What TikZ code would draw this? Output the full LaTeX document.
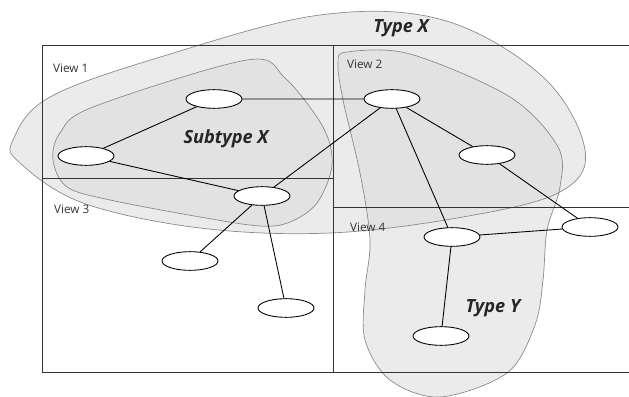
\documentclass[tikz,border=0pt]{standalone}
\usepackage{fontspec}
\setmainfont{Open Sans}
\usetikzlibrary{shapes.geometric}

\definecolor{blobfill}{gray}{0.92}
\definecolor{blobdark}{gray}{0.885}
\definecolor{blobline}{gray}{0.55}

% outlines of the three groups, in pixel units
\newcommand{\typexshape}{plot[smooth cycle, tension=0.6] coordinates {(13,140) (50,97) (167,55) (320,15) (443,20) (543,77) (585,150) (560,192) (463,217) (330,233) (200,228) (83,203) (20,163)}}
\newcommand{\typeyshape}{plot[smooth cycle, tension=0.55] coordinates {(347,52) (410,54) (510,97) (558,147) (560,187) (547,230) (543,280) (535,325) (507,373) (440,397) (390,380) (365,340) (365,290) (370,240) (360,173) (343,100) (338,63)}}
\newcommand{\subxshape}{plot[smooth cycle, tension=0.55] coordinates {(93,107) (247,60) (285,78) (323,127) (332,165) (317,203) (290,222) (260,226) (200,217) (110,200) (67,187) (53,160) (60,133)}}

\begin{document}
\begin{tikzpicture}[
        x=0.3mm, y=-0.3mm,
        vertex/.style={ellipse, draw, fill=white, line width=0.75pt,
          minimum width=16.8mm, minimum height=5.6mm, inner sep=0pt},
        blob/.style={draw=blobline, line width=0.6pt},
        frame/.style={black!80, line width=0.75pt},
        viewlabel/.style={anchor=west, text=black!80,
          font=\fontsize{10}{12}\selectfont},
        grouplabel/.style={text=black!85,
          font=\fontsize{15.5}{18}\selectfont\bfseries\itshape},
      ]
      \useasboundingbox (0,0) rectangle (629,397);
      % group regions
      \fill[blobfill] \typexshape;
      \fill[blobfill] \typeyshape;
      \begin{scope}
        \clip \typexshape;
        \fill[blobdark] \typeyshape;
      \end{scope}
      \fill[blobdark] \subxshape;
      \draw[blob] \typexshape;
      \draw[blob] \typeyshape;
      \draw[blob] \subxshape;
      % views
      \draw[frame] (42,45) rectangle (333,372);
      \draw[frame] (333,45) -- (629,45) (333,372) -- (629,372);
      \draw[frame] (42,178) -- (333,178) (333,207) -- (629,207);
      \node[viewlabel] (v1) at (49,68) {View 1};
      \node[viewlabel] (v2) at (343,64) {View 2};
      \node[viewlabel] (v3) at (50,209) {View 3};
      \node[viewlabel] (v4) at (346,227) {View 4};
      % graph
      \node[vertex] (a) at (214,99) {};
      \node[vertex] (b) at (86,156) {};
      \node[vertex] (c) at (392,99) {};
      \node[vertex] (d) at (487,155) {};
      \node[vertex] (e) at (262,196) {};
      \node[vertex] (f) at (190,261) {};
      \node[vertex] (g) at (286,308) {};
      \node[vertex] (h) at (452,237) {};
      \node[vertex] (i) at (590,227) {};
      \node[vertex] (j) at (441,336) {};
      \draw[line width=0.75pt] (a) -- (c) (a) -- (b) (b) -- (e) (e) -- (c)
        (e) -- (f) (e) -- (g) (c) -- (d) (c) -- (h) (d) -- (i)
        (h) -- (i) (h) -- (j);
      \node[grouplabel] (tx) at (401,28) {Type X};
      \node[grouplabel] (sx) at (226,139) {Subtype X};
      \node[grouplabel] (ty) at (493,308) {Type Y};
    \end{tikzpicture}
\end{document}
